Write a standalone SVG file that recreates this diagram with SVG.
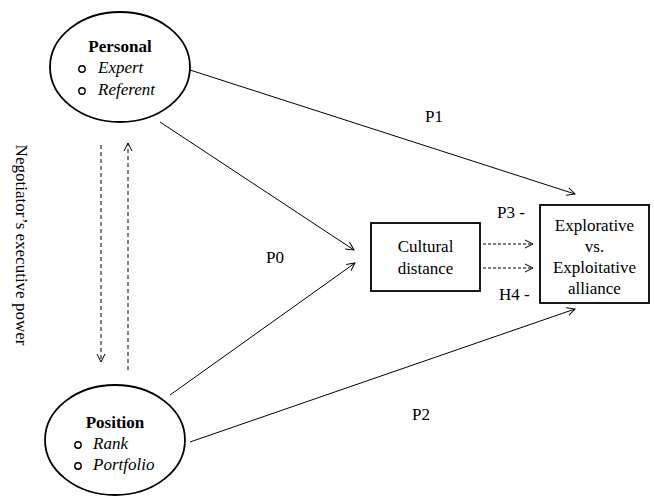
<svg xmlns="http://www.w3.org/2000/svg" width="654" height="496" viewBox="0 0 654 496">
<style>
text{font-family:"Liberation Serif","Times New Roman",serif;font-size:17px;fill:#000}
.b{font-weight:bold}
.i{font-style:italic}
.node{fill:#fff;stroke:#000;stroke-width:1.8}
.bul{fill:none;stroke:#000;stroke-width:1.4}
.c{fill:none;stroke:#000;stroke-width:1}
.d{fill:none;stroke:#000;stroke-width:1;stroke-dasharray:3 2}
.dv{fill:none;stroke:#000;stroke-width:1;stroke-dasharray:4 3}
</style>
<defs>
<marker id="ah" markerUnits="userSpaceOnUse" markerWidth="10" markerHeight="10" refX="8" refY="4" orient="auto" viewBox="0 0 10 8">
<path d="M0,0 L8,4 L0,8" fill="none" stroke="#000" stroke-width="1"/>
</marker>
</defs>
<g id="connectors">
<line class="c" x1="190" y1="70" x2="575" y2="194" marker-end="url(#ah)"/>
<line class="c" x1="160" y1="122" x2="354" y2="250" marker-end="url(#ah)"/>
<line class="c" x1="170" y1="395" x2="355" y2="263" marker-end="url(#ah)"/>
<line class="c" x1="190" y1="442" x2="575" y2="309" marker-end="url(#ah)"/>
<line class="d" x1="483" y1="244" x2="533" y2="244" marker-end="url(#ah)"/>
<line class="d" x1="483" y1="268" x2="533" y2="268" marker-end="url(#ah)"/>
<line class="dv" x1="101" y1="145" x2="101" y2="362" marker-end="url(#ah)"/>
<line class="dv" x1="128" y1="370" x2="128" y2="143" marker-end="url(#ah)"/>
</g>
<g id="labels">
<text x="425" y="122">P1</text>
<text x="266" y="263">P0</text>
<text x="412" y="420">P2</text>
<text x="497" y="218">P3 -</text>
<text x="499" y="300">H4 -</text>
<text transform="translate(16,245) rotate(90)" text-anchor="middle">Negotiator’s executive power</text>
</g>
<g id="personal">
<ellipse class="node" cx="120" cy="67" rx="70" ry="55"/>
<text class="b" x="120" y="52" text-anchor="middle">Personal</text>
<circle class="bul" cx="82" cy="69" r="3.2"/>
<text class="i" x="98" y="73">Expert</text>
<circle class="bul" cx="82" cy="91" r="3.2"/>
<text class="i" x="98" y="95">Referent</text>
</g>
<g id="position">
<ellipse class="node" cx="115" cy="440" rx="70" ry="55"/>
<text class="b" x="115" y="428" text-anchor="middle">Position</text>
<circle class="bul" cx="78" cy="445" r="3.2"/>
<text class="i" x="93" y="449">Rank</text>
<circle class="bul" cx="78" cy="466" r="3.2"/>
<text class="i" x="93" y="470">Portfolio</text>
</g>
<g id="cultural">
<rect class="node" x="371" y="223" width="109" height="68"/>
<text x="425.5" y="252" text-anchor="middle">Cultural</text>
<text x="425.5" y="274" text-anchor="middle">distance</text>
</g>
<g id="alliance">
<rect class="node" x="540" y="205" width="109" height="98"/>
<text x="594.5" y="231" text-anchor="middle">Explorative</text>
<text x="594.5" y="252" text-anchor="middle">vs.</text>
<text x="594.5" y="273" text-anchor="middle">Exploitative</text>
<text x="594.5" y="294" text-anchor="middle">alliance</text>
</g>
</svg>
